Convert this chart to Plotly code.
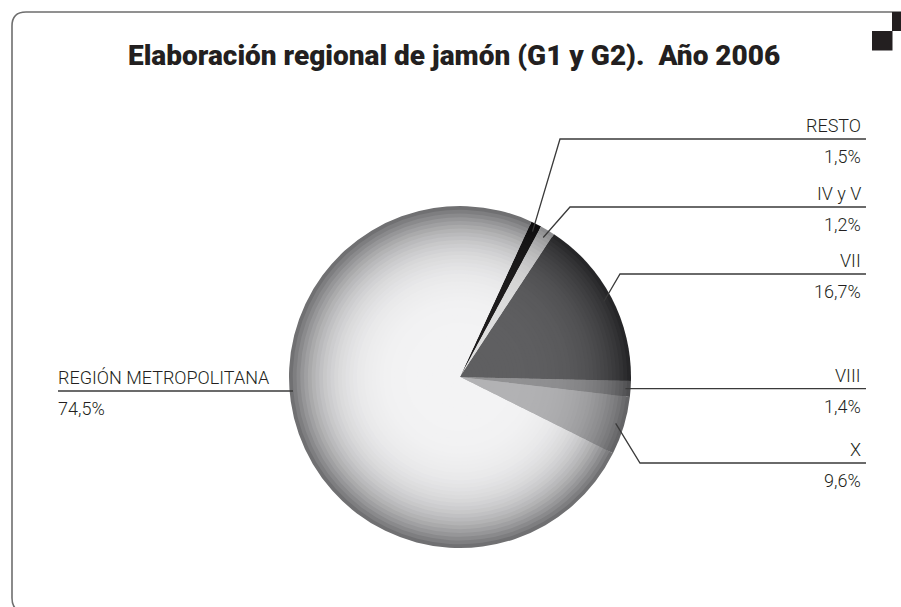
import math
import plotly.graph_objects as go

# ---------------- data ----------------
regions = ["RESTO", "IV y V", "VII", "VIII", "X", "REGIÓN METROPOLITANA"]
pct_labels = ["1,5%", "1,2%", "16,7%", "1,4%", "9,6%", "74,5%"]
# slice sizes as drawn in the picture (percent of the circle)
drawn_share = [1.0, 1.4, 16.1, 1.5, 5.5, 74.5]

title_text = "Elaboración regional de jamón (G1 y G2).\u00a0\u00a0Año 2006"

# ---------------- style ----------------
W, H = 901, 607
CX, CY, R = 460, 377, 171     # screen coordinates of the pie
START_DEG = 24.7
center_cols = [(30, 28, 29), (222, 222, 222), (95, 95, 97), (145, 145, 147), (178, 178, 180), (243, 243, 244)]
rim_cols = [(14, 13, 14), (140, 140, 142), (38, 38, 40), (78, 78, 80), (100, 100, 102), (112, 112, 114)]
FONT = "Roboto, Arial, sans-serif"
INK = "#231f20"


def px(x):
    return x / W


def py(y):
    return 1 - y / H


fig = go.Figure()

# layered pies to simulate radial shading (dark rim, light centre)
N = 44
for k in range(N):
    f = 1.0 - k * (0.97 / N)  # radius fraction
    g = f ** 5
    cols = []
    for c0, c1 in zip(center_cols, rim_cols):
        c = tuple(int(round(a + (b - a) * g)) for a, b in zip(c0, c1))
        cols.append("rgb(%d,%d,%d)" % c)
    r = R * f
    fig.add_trace(go.Pie(
        labels=regions, values=drawn_share, sort=False, direction="clockwise",
        rotation=START_DEG, textinfo="none", hoverinfo="skip", showlegend=False,
        marker=dict(colors=cols, line=dict(width=0)),
        domain=dict(x=[px(CX - r), px(CX + r)], y=[py(CY + r), py(CY - r)]),
    ))

# mid angles of slices (degrees clockwise from 12 o'clock)
tot = sum(drawn_share)
acc = START_DEG
mids = []
for v in drawn_share:
    a = v / tot * 360
    mids.append(acc + a / 2)
    acc += a


def rim_pt(ang, rf):
    t = math.radians(ang)
    return CX + R * rf * math.sin(t), CY - R * rf * math.cos(t)


shapes = []
annotations = []
LINE_COL = "#3a3a3a"
LINE_END = 866
TEXT_RIGHT = 863
LBL = 18


def label_pair(x, ly, name, pct, anchor):
    annotations.append(dict(x=px(x), y=py(ly - 1), xref="paper", yref="paper",
                            text=name, showarrow=False, xanchor=anchor, yanchor="bottom",
                            font=dict(family=FONT, size=LBL, color=INK, weight=300)))
    annotations.append(dict(x=px(x), y=py(ly + 5), xref="paper", yref="paper",
                            text=pct, showarrow=False, xanchor=anchor, yanchor="top",
                            font=dict(family=FONT, size=LBL, color=INK, weight=300)))


# label rows: (index, line y or None for horizontal leader, elbow x, radius fraction of start)
rows = [(0, 139, 560, 0.95), (1, 207, 570, 0.95), (2, 274, 620, 0.95),
        (3, None, None, 0.97), (4, 463, 640, 0.95)]
for i, ly, ex, rf in rows:
    sx, sy = rim_pt(mids[i], rf)
    if ly is None:
        ly = sy
        path = "M %f %f L %f %f" % (px(sx), py(sy), px(LINE_END), py(ly))
    else:
        path = "M %f %f L %f %f L %f %f" % (px(sx), py(sy), px(ex), py(ly), px(LINE_END), py(ly))
    shapes.append(dict(type="path", xref="paper", yref="paper", path=path,
                       line=dict(color=LINE_COL, width=1.3)))
    label_pair(TEXT_RIGHT, ly, regions[i], pct_labels[i], "right")

# left label (REGIÓN METROPOLITANA)
LY = 391
shapes.append(dict(type="line", xref="paper", yref="paper", x0=px(58), y0=py(LY),
                   x1=px(CX - R + 4), y1=py(LY), line=dict(color=LINE_COL, width=1.3)))
label_pair(56, LY, regions[5], pct_labels[5], "left")

# title
annotations.append(dict(x=px(454), y=py(55), xref="paper", yref="paper", text=title_text,
                        showarrow=False, xanchor="center", yanchor="middle",
                        font=dict(family=FONT, size=28, color=INK, weight=900)))

# frame with rounded corners (open to the right)
rc = 14
frame = ("M %f %f L %f %f Q %f %f %f %f L %f %f Q %f %f %f %f L %f %f" % (
    px(W + 20), py(12), px(12 + rc), py(12), px(12), py(12), px(12), py(12 + rc),
    px(12), py(612 - rc), px(12), py(612), px(12 + rc), py(612), px(W + 20), py(612)))
shapes.append(dict(type="path", xref="paper", yref="paper", path=frame,
                   line=dict(color="#6e6e6e", width=1.6)))
# corner squares
shapes.append(dict(type="rect", xref="paper", yref="paper", x0=px(892), x1=px(905), y0=py(31), y1=py(12),
                   fillcolor=INK, line=dict(width=0)))
shapes.append(dict(type="rect", xref="paper", yref="paper", x0=px(872), x1=px(892.5), y0=py(50.5), y1=py(31),
                   fillcolor=INK, line=dict(width=0)))

fig.update_layout(width=W, height=H, margin=dict(l=0, r=0, t=0, b=0),
                  paper_bgcolor="white", plot_bgcolor="white",
                  shapes=shapes, annotations=annotations)
fig.write_html("out.html", config={"displayModeBar": False, "staticPlot": True},
               post_script="document.body.style.margin='0px';"
                           "document.documentElement.style.overflow='hidden';")
